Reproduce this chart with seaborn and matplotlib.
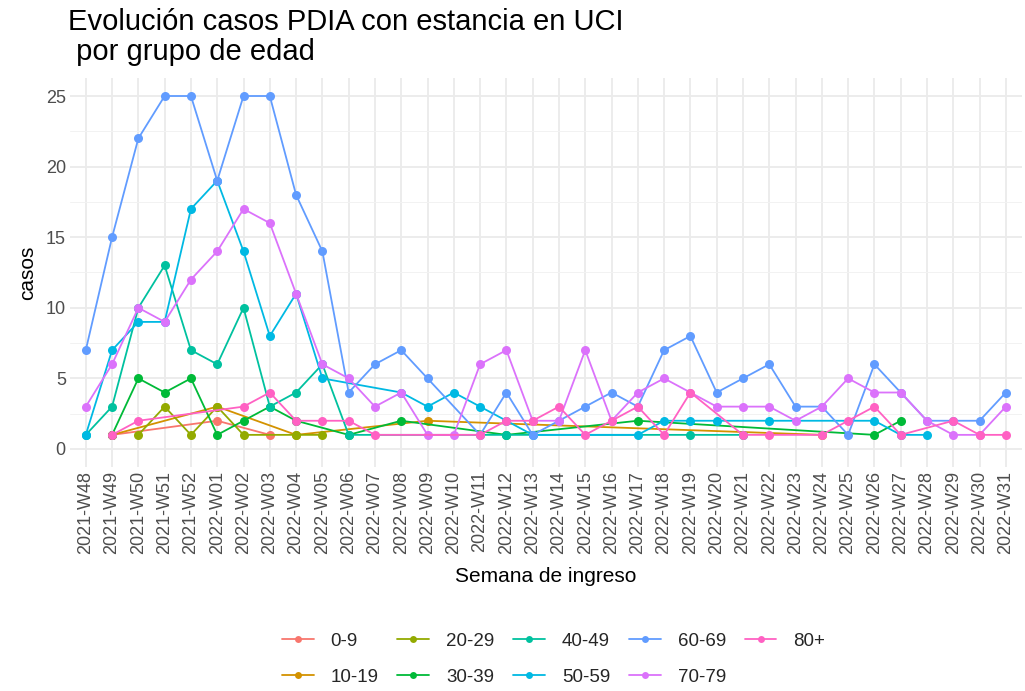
import numpy as np
import pandas as pd
import matplotlib
matplotlib.use("Agg")
import matplotlib.pyplot as plt
from matplotlib.lines import Line2D
import seaborn as sns

# Weeks of admission (x axis categories)
semanas = [
    "2021-W48", "2021-W49", "2021-W50", "2021-W51", "2021-W52",
    "2022-W01", "2022-W02", "2022-W03", "2022-W04", "2022-W05",
    "2022-W06", "2022-W07", "2022-W08", "2022-W09", "2022-W10",
    "2022-W11", "2022-W12", "2022-W13", "2022-W14", "2022-W15",
    "2022-W16", "2022-W17", "2022-W18", "2022-W19", "2022-W20",
    "2022-W21", "2022-W22", "2022-W23", "2022-W24", "2022-W25",
    "2022-W26", "2022-W27", "2022-W28", "2022-W29", "2022-W30",
    "2022-W31",
]

grupos = ["0-9", "10-19", "20-29", "30-39", "40-49", "50-59", "60-69", "70-79", "80+"]

N = None
# ICU cases per week for each age group (None = no cases that week)
casos_0_9 = [N, 1, N, N, N, 2, N, 1, N, N, N, N, N, N, N, N, N, N,
             N, N, N, N, N, N, N, N, N, N, N, N, N, N, N, N, N, N]
casos_10_19 = [N, 1, N, N, N, 3, N, N, 1, N, N, N, N, 2, N, N, N, N,
               N, N, N, N, N, N, N, N, N, N, 1, N, N, N, N, N, N, N]
casos_20_29 = [N, N, 1, 3, 1, 3, 1, N, 1, 1, N, N, N, N, N, N, N, N,
               N, N, N, N, N, N, N, N, N, N, N, N, N, N, N, N, N, N]
casos_30_39 = [N, 1, 5, 4, 5, 1, 2, 3, 2, N, 1, N, 2, N, N, N, 1, N,
               N, N, N, 2, N, N, N, N, N, N, N, N, 1, 2, N, N, N, N]
casos_40_49 = [1, 3, 10, 13, 7, 6, 10, 3, 4, 6, 1, N, N, N, N, N, 1, N,
               N, N, N, N, N, 1, N, 1, N, N, N, N, N, N, N, N, N, N]
casos_50_59 = [1, 7, 9, 9, 17, 19, 14, 8, 11, 5, N, N, 4, 3, 4, 3, 2, 1,
               N, N, N, 1, 2, 2, 2, N, 2, N, N, N, 2, 1, 1, N, N, N]
casos_60_69 = [7, 15, 22, 25, 25, 19, 25, 25, 18, 14, 4, 6, 7, 5, N, 1, 4, 1,
               2, 3, 4, 3, 7, 8, 4, 5, 6, 3, 3, 1, 6, 4, 2, 2, 2, 4]
casos_70_79 = [3, 6, 10, 9, 12, 14, 17, 16, 11, 6, 5, 3, 4, 1, 1, 6, 7, 2,
               2, 7, 2, 4, 5, 4, 3, 3, 3, 2, 3, 5, 4, 4, 2, 1, 1, 3]
casos_80 = [N, 1, 2, N, N, N, 3, 4, 2, 2, 2, 1, N, N, N, 1, 2, 2,
            3, 1, 2, 3, 1, 4, N, 1, 1, N, 1, 2, 3, 1, N, 2, 1, 1]

series = [casos_0_9, casos_10_19, casos_20_29, casos_30_39, casos_40_49,
          casos_50_59, casos_60_69, casos_70_79, casos_80]

colores = ["#F8766D", "#D39200", "#93AA00", "#00BA38", "#00C19F",
           "#00B9E3", "#619CFF", "#DB72FB", "#FF61C3"]
paleta = dict(zip(grupos, colores))

# Long-format table with only the observed weeks
filas = []
for g, vals in zip(grupos, series):
    for i, v in enumerate(vals):
        if v is not None:
            filas.append({"semana": i, "grupo": g, "casos": v})
df = pd.DataFrame(filas)

sns.set_theme(style="white")
plt.rcParams["font.family"] = ["Liberation Sans", "DejaVu Sans"]

fig = plt.figure(figsize=(10.25, 6.91), dpi=100)
ax = fig.add_axes([0.0683, 0.3247, 0.9284, 0.5619])

sns.lineplot(data=df, x="semana", y="casos", hue="grupo", hue_order=grupos,
             palette=paleta, marker="o", markersize=6.5, markeredgewidth=0,
             linewidth=1.3, errorbar=None, legend=False, ax=ax)

ax.set_xlim(-0.6, len(semanas) - 1 + 0.6)
ax.set_ylim(-1.25, 26.25)
ax.set_xticks(range(len(semanas)))
ax.set_xticklabels(semanas, rotation=90)
ax.set_yticks([0, 5, 10, 15, 20, 25])
ax.set_yticks([2.5, 7.5, 12.5, 17.5, 22.5], minor=True)

ax.grid(True, which="major", color="#EBEBEB", linewidth=1.3)
ax.grid(True, which="minor", axis="y", color="#F2F2F2", linewidth=0.7)
ax.set_axisbelow(True)
for s in ax.spines.values():
    s.set_visible(False)
ax.tick_params(axis="both", which="both", length=0, labelsize=13,
               labelcolor="#4D4D4D", pad=3)

ax.set_xlabel("Semana de ingreso", fontsize=15, color="black", labelpad=9)
ax.set_ylabel("casos", fontsize=15, color="black", labelpad=6)

fig.text(0.066, 0.988, "Evolución casos PDIA con estancia en UCI\n por grupo de edad",
         ha="left", va="top", fontsize=21, color="black", linespacing=1.1)

handles = [Line2D([0], [0], color=c, marker="o", markersize=5, markeredgewidth=0,
                  linewidth=1.3) for c in colores]
fig.legend(handles, grupos, loc="center", bbox_to_anchor=(0.54, 0.046), ncol=5,
           frameon=False, fontsize=13.5, handlelength=1.7, columnspacing=1.0,
           handletextpad=0.9, labelspacing=1.0)

fig.savefig("out.png", dpi=100)
